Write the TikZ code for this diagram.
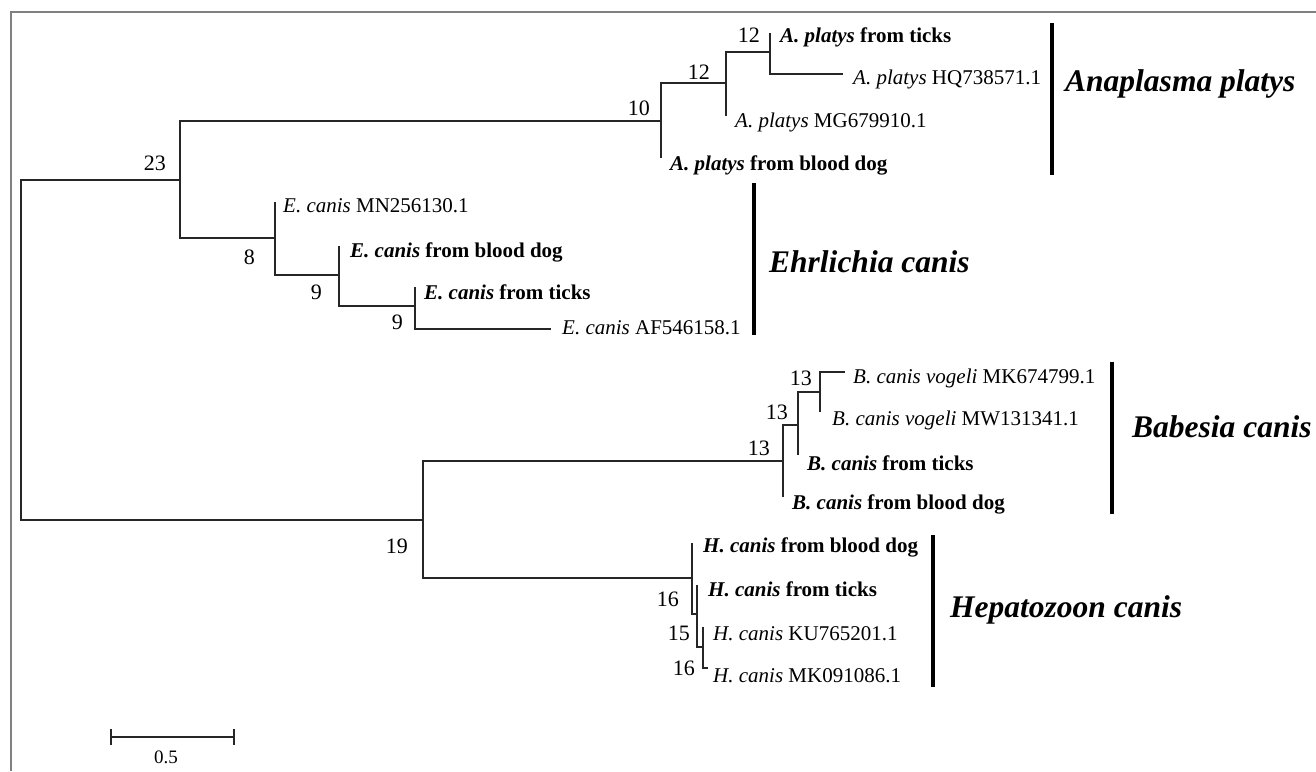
\documentclass[tikz,border=0pt]{standalone}
\usepackage{fontspec}
\setmainfont{Liberation Serif}
\begin{document}
\begin{tikzpicture}[x=1pt,y=-1pt,
  branch/.style={line width=1.3pt, draw=black!85},
  leaflbl/.style={anchor=base west, inner sep=0pt, font=\fontsize{21}{25}\selectfont},
  boot/.style={anchor=base east, inner sep=0pt, font=\fontsize{22}{26}\selectfont},
  cladelbl/.style={anchor=base west, inner sep=0pt, font=\fontsize{31.5}{36}\selectfont\bfseries\itshape},
  cladebar/.style={line width=4pt, draw=black},
  framestyle/.style={line width=1.5pt, draw=black!50}]
\useasboundingbox (0,0) rectangle (1316,771);
% frame
\draw[framestyle] (11,771) -- (11,12) -- (1316,12);
% tree nodes
\coordinate (R) at (21,350);
\coordinate (B) at (180,180);
\coordinate (A1) at (661,121);
\coordinate (A2) at (726,83);
\coordinate (A3) at (770,52);
\coordinate (Lpt) at (770,33);
\coordinate (Lhq) at (843,74);
\coordinate (Lmg) at (726,116);
\coordinate (Lbd) at (661,158);
\coordinate (C) at (275,238);
\coordinate (Lmn) at (275,202);
\coordinate (D) at (339,275);
\coordinate (Lebd) at (339,246);
\coordinate (E) at (415,306);
\coordinate (Let) at (415,287);
\coordinate (Laf) at (551,329);
\coordinate (G) at (423,520);
\coordinate (N1) at (783,461);
\coordinate (N2) at (798,425);
\coordinate (N3) at (820,392);
\coordinate (Lmk) at (845,372);
\coordinate (Lmw) at (820,412);
\coordinate (Lbt) at (798,455);
\coordinate (Lbb) at (783,497);
\coordinate (H1) at (692,578);
\coordinate (H2) at (697,614);
\coordinate (H3) at (703,647);
\coordinate (Lhb) at (692,543);
\coordinate (Lht) at (697,585);
\coordinate (Lku) at (703,627);
\coordinate (Lmk2) at (708,668);
% branches
\draw[branch] (R) |- (B);
\draw[branch] (R) |- (G);
\draw[branch] (B) |- (A1);
\draw[branch] (B) |- (C);
\draw[branch] (A1) |- (A2);
\draw[branch] (A1) |- (Lbd);
\draw[branch] (A2) |- (A3);
\draw[branch] (A2) |- (Lmg);
\draw[branch] (A3) |- (Lpt);
\draw[branch] (A3) |- (Lhq);
\draw[branch] (C) |- (Lmn);
\draw[branch] (C) |- (D);
\draw[branch] (D) |- (Lebd);
\draw[branch] (D) |- (E);
\draw[branch] (E) |- (Let);
\draw[branch] (E) |- (Laf);
\draw[branch] (G) |- (N1);
\draw[branch] (G) |- (H1);
\draw[branch] (N1) |- (N2);
\draw[branch] (N1) |- (Lbb);
\draw[branch] (N2) |- (N3);
\draw[branch] (N2) |- (Lbt);
\draw[branch] (N3) |- (Lmk);
\draw[branch] (N3) |- (Lmw);
\draw[branch] (H1) |- (Lhb);
\draw[branch] (H1) |- (H2);
\draw[branch] (H2) |- (Lht);
\draw[branch] (H2) |- (H3);
\draw[branch] (H3) |- (Lku);
\draw[branch] (H3) |- (Lmk2);
% leaf labels
\node[leaflbl] (tpt) at (780,42) {\textbf{\textit{A. platys} from ticks}};
\node[leaflbl] (thq) at (853,84) {\textit{A. platys} HQ738571.1};
\node[leaflbl] (tmg) at (735,127) {\textit{A. platys} MG679910.1};
\node[leaflbl] (tbd) at (670,170) {\textbf{\textit{A. platys} from blood dog}};
\node[leaflbl] (tmn) at (283,212) {\textit{E. canis} MN256130.1};
\node[leaflbl] (tebd) at (350,257) {\textbf{\textit{E. canis} from blood dog}};
\node[leaflbl] (tet) at (424,299) {\textbf{\textit{E. canis} from ticks}};
\node[leaflbl] (taf) at (562,334) {\textit{E. canis} AF546158.1};
\node[leaflbl] (tmk) at (853,383) {\textit{B. canis vogeli} MK674799.1};
\node[leaflbl] (tmw) at (832,425) {\textit{B. canis vogeli} MW131341.1};
\node[leaflbl] (tbt) at (807,470) {\textbf{\textit{B. canis} from ticks}};
\node[leaflbl] (tbb) at (792,509) {\textbf{\textit{B. canis} from blood dog}};
\node[leaflbl] (thb) at (703,552) {\textbf{\textit{H. canis} from blood dog}};
\node[leaflbl] (tht) at (708,596) {\textbf{\textit{H. canis} from ticks}};
\node[leaflbl] (tku) at (713,640) {\textit{H. canis} KU765201.1};
\node[leaflbl] (tmk2) at (713,682) {\textit{H. canis} MK091086.1};
% bootstrap values
\node[boot] (b23) at (166,170.5) {23};
\node[boot] (b10) at (650,115.5) {10};
\node[boot] (b12a) at (710,79.5) {12};
\node[boot] (b12b) at (760,42.5) {12};
\node[boot] (b8) at (255,264.5) {8};
\node[boot] (b9a) at (322,299.5) {9};
\node[boot] (b9b) at (403,329.5) {9};
\node[boot] (b19) at (408,553.5) {19};
\node[boot] (b13a) at (770,455.5) {13};
\node[boot] (b13b) at (788,419.5) {13};
\node[boot] (b13c) at (812,385.5) {13};
\node[boot] (b16a) at (679,606.5) {16};
\node[boot] (b15) at (690,640.5) {15};
\node[boot] (b16b) at (695,675.5) {16};
% clade bars and labels
\draw[cladebar] (1052,23) -- (1052,175);
\node[cladelbl] (cap) at (1065,91) {Anaplasma platys};
\draw[cladebar] (754,183) -- (754,335);
\node[cladelbl] (cec) at (769,272) {Ehrlichia canis};
\draw[cladebar] (1112,362) -- (1112,514);
\node[cladelbl] (cbc) at (1132,437) {Babesia canis};
\draw[cladebar] (933,535) -- (933,687);
\node[cladelbl] (chc) at (950,617) {Hepatozoon canis};
% scale bar
\coordinate (s1) at (111,737);
\coordinate (s2) at (234,737);
\draw[branch] (s1) -- (s2);
\draw[branch] (111,729) -- (111,745);
\draw[branch] (234,729) -- (234,745);
\node[anchor=base, inner sep=0pt, font=\fontsize{19}{22}\selectfont] (sl) at (166,763) {0.5};
\end{tikzpicture}
\end{document}
